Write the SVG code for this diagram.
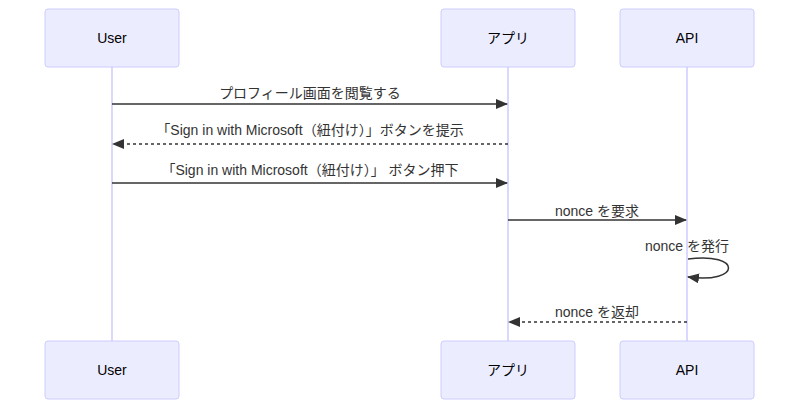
<svg xmlns="http://www.w3.org/2000/svg" width="800" height="409" viewBox="0 0 800 409">
<style>
.actor{fill:#ECECFF;stroke:#CCCCFF;stroke-width:1}
.life{stroke:#CCCCFF;stroke-width:1.5}
.at{font-family:"Liberation Sans","Noto Sans CJK JP",sans-serif;font-size:14px;fill:#000;text-anchor:middle;dominant-baseline:central}
.ml{font-family:"Liberation Sans","Noto Sans CJK JP",sans-serif;font-size:14px;fill:#333;text-anchor:middle}
.msg{stroke:#333;stroke-width:1.5;fill:none}
.dash{stroke-dasharray:3,3}
</style>
<defs>
<marker id="ah" viewBox="0 0 12 10" refX="11" refY="5" markerWidth="12" markerHeight="10" markerUnits="userSpaceOnUse" orient="auto"><path d="M0,0L12,5L0,10z" fill="#333"/></marker>
</defs>
<g id="lifelines">
<line class="life" x1="112" y1="67" x2="112" y2="341"/>
<line class="life" x1="508" y1="67" x2="508" y2="341"/>
<line class="life" x1="687" y1="67" x2="687" y2="341"/>
</g>
<g id="user-top"><rect class="actor" x="45" y="9" width="134" height="58" rx="3"/><text class="at" x="112" y="38">User</text></g>
<g id="app-top"><rect class="actor" x="441" y="9" width="134" height="58" rx="3"/><text class="at" x="508" y="38">アプリ</text></g>
<g id="api-top"><rect class="actor" x="620" y="9" width="134" height="58" rx="3"/><text class="at" x="687" y="38">API</text></g>
<g id="user-bottom"><rect class="actor" x="45" y="341" width="134" height="58" rx="3"/><text class="at" x="112" y="370">User</text></g>
<g id="app-bottom"><rect class="actor" x="441" y="341" width="134" height="58" rx="3"/><text class="at" x="508" y="370">アプリ</text></g>
<g id="api-bottom"><rect class="actor" x="620" y="341" width="134" height="58" rx="3"/><text class="at" x="687" y="370">API</text></g>
<g id="connectors">
<line class="msg" x1="112" y1="104" x2="507" y2="104" marker-end="url(#ah)"/>
<text class="ml" x="310" y="98">プロフィール画面を閲覧する</text>
<line class="msg dash" x1="508" y1="144" x2="113" y2="144" marker-end="url(#ah)"/>
<text class="ml" x="310" y="135">「Sign in with Microsoft（紐付け）」ボタンを提示</text>
<line class="msg" x1="112" y1="183" x2="507" y2="183" marker-end="url(#ah)"/>
<text class="ml" x="310" y="175">「Sign in with Microsoft（紐付け）」 ボタン押下</text>
<line class="msg" x1="508" y1="220" x2="686" y2="220" marker-end="url(#ah)"/>
<text class="ml" x="597" y="216">nonce を要求</text>
<path class="msg" d="M688,259 C742,252 742,284 688,277" marker-end="url(#ah)"/>
<text class="ml" x="687" y="251">nonce を発行</text>
<line class="msg dash" x1="687" y1="322" x2="509" y2="322" marker-end="url(#ah)"/>
<text class="ml" x="597" y="317">nonce を返却</text>
</g>
</svg>
